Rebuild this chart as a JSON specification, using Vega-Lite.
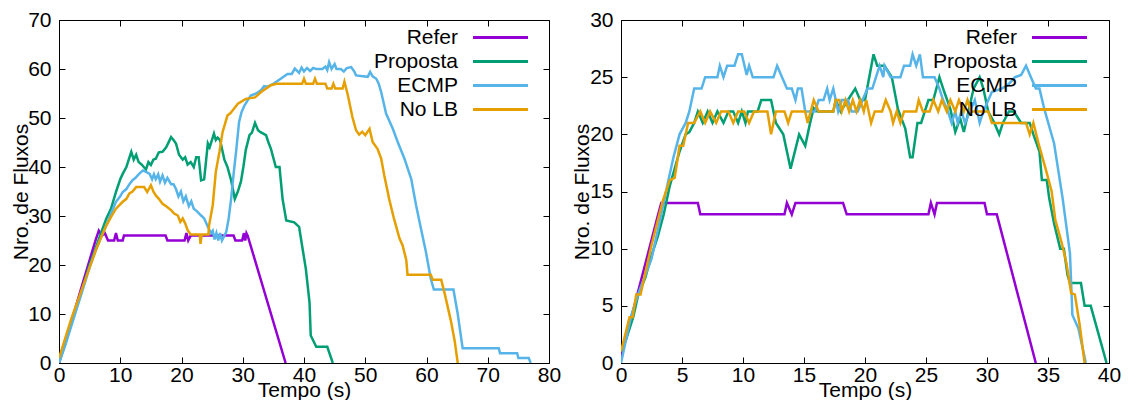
{
"$schema": "https://vega.github.io/schema/vega-lite/v6.json",
"padding": {"left": 9, "top": 8, "right": 5, "bottom": 0},
"config": {
  "view": {"stroke": "black", "strokeWidth": 1},
  "axis": {"labelFont": "Liberation Sans", "labelFontSize": 21, "labelColor": "black", "titleFont": "Liberation Sans", "titleFontSize": 21, "titleFontWeight": "normal", "titleColor": "black", "domainColor": "black", "tickColor": "black", "grid": false, "labelFlush": false, "labelOverlap": false, "tickSize": -6}
},
"resolve": {"scale": {"color": "independent"}, "legend": {"color": "independent"}},
"spacing": 8,
"datasets": {
"left": [
{"s":"Refer","t":0,"v":0},{"s":"Refer","t":1,"v":4.2},{"s":"Refer","t":2,"v":8.4},{"s":"Refer","t":3,"v":12.6},{"s":"Refer","t":4,"v":16.8},{"s":"Refer","t":5,"v":21},{"s":"Refer","t":6,"v":25.2},{"s":"Refer","t":6.5,"v":27},{"s":"Refer","t":7,"v":26},{"s":"Refer","t":7.5,"v":26.5},{"s":"Refer","t":8,"v":25},{"s":"Refer","t":9,"v":25},{"s":"Refer","t":9.3,"v":26.5},{"s":"Refer","t":9.6,"v":25},{"s":"Refer","t":10.4,"v":25},{"s":"Refer","t":10.6,"v":26},{"s":"Refer","t":17.4,"v":26},{"s":"Refer","t":17.7,"v":25},{"s":"Refer","t":20.5,"v":25},{"s":"Refer","t":20.8,"v":26.5},{"s":"Refer","t":21.1,"v":25},{"s":"Refer","t":21.5,"v":26},{"s":"Refer","t":28.5,"v":26},{"s":"Refer","t":28.8,"v":25},{"s":"Refer","t":29.9,"v":25},{"s":"Refer","t":30.2,"v":26.5},{"s":"Refer","t":30.4,"v":25},{"s":"Refer","t":30.6,"v":26.5},{"s":"Refer","t":30.8,"v":26},{"s":"Refer","t":37,"v":0},
{"s":"Proposta","t":0,"v":0},{"s":"Proposta","t":1,"v":4},{"s":"Proposta","t":2,"v":8},{"s":"Proposta","t":3,"v":12},{"s":"Proposta","t":4,"v":16},{"s":"Proposta","t":5,"v":20},{"s":"Proposta","t":6,"v":23.5},{"s":"Proposta","t":7,"v":27},{"s":"Proposta","t":7.7,"v":29.4},{"s":"Proposta","t":8.5,"v":31.5},{"s":"Proposta","t":9.3,"v":34.9},{"s":"Proposta","t":10,"v":37.5},{"s":"Proposta","t":10.4,"v":38.6},{"s":"Proposta","t":11,"v":40},{"s":"Proposta","t":11.8,"v":43.1},{"s":"Proposta","t":12.2,"v":41.5},{"s":"Proposta","t":12.6,"v":42.5},{"s":"Proposta","t":13,"v":41},{"s":"Proposta","t":13.5,"v":40.5},{"s":"Proposta","t":14.2,"v":39.5},{"s":"Proposta","t":14.6,"v":41},{"s":"Proposta","t":15,"v":40.4},{"s":"Proposta","t":15.4,"v":41.5},{"s":"Proposta","t":15.8,"v":41.7},{"s":"Proposta","t":16.3,"v":43},{"s":"Proposta","t":16.9,"v":43.1},{"s":"Proposta","t":17.5,"v":44},{"s":"Proposta","t":18.3,"v":46.1},{"s":"Proposta","t":18.7,"v":45.5},{"s":"Proposta","t":19.1,"v":44.8},{"s":"Proposta","t":19.6,"v":42.5},{"s":"Proposta","t":20.2,"v":41.5},{"s":"Proposta","t":20.6,"v":42},{"s":"Proposta","t":21,"v":40.5},{"s":"Proposta","t":21.5,"v":41},{"s":"Proposta","t":22,"v":40},{"s":"Proposta","t":22.4,"v":42},{"s":"Proposta","t":22.8,"v":42},{"s":"Proposta","t":23.2,"v":37.3},{"s":"Proposta","t":23.7,"v":37.5},{"s":"Proposta","t":24.3,"v":44.8},{"s":"Proposta","t":24.6,"v":44},{"s":"Proposta","t":25.3,"v":46.8},{"s":"Proposta","t":25.6,"v":45.5},{"s":"Proposta","t":25.9,"v":46},{"s":"Proposta","t":26.3,"v":45.5},{"s":"Proposta","t":27,"v":41.5},{"s":"Proposta","t":27.5,"v":40},{"s":"Proposta","t":28.1,"v":37.3},{"s":"Proposta","t":28.7,"v":33.5},{"s":"Proposta","t":29.2,"v":35},{"s":"Proposta","t":29.7,"v":37},{"s":"Proposta","t":30.1,"v":40},{"s":"Proposta","t":30.5,"v":43.5},{"s":"Proposta","t":31.1,"v":46.5},{"s":"Proposta","t":31.5,"v":47},{"s":"Proposta","t":32,"v":49},{"s":"Proposta","t":32.5,"v":47.5},{"s":"Proposta","t":32.9,"v":47.1},{"s":"Proposta","t":33.8,"v":46.5},{"s":"Proposta","t":34.2,"v":45},{"s":"Proposta","t":34.6,"v":43.7},{"s":"Proposta","t":35.4,"v":40},{"s":"Proposta","t":36,"v":40},{"s":"Proposta","t":36.5,"v":33.5},{"s":"Proposta","t":37.1,"v":29.1},{"s":"Proposta","t":38.4,"v":28.7},{"s":"Proposta","t":39.2,"v":27.8},{"s":"Proposta","t":39.5,"v":25.4},{"s":"Proposta","t":40.3,"v":19.2},{"s":"Proposta","t":40.9,"v":12.4},{"s":"Proposta","t":41.1,"v":5.6},{"s":"Proposta","t":42,"v":3.3},{"s":"Proposta","t":43.8,"v":3.3},{"s":"Proposta","t":44.7,"v":0},
{"s":"ECMP","t":0,"v":0},{"s":"ECMP","t":1,"v":3.5},{"s":"ECMP","t":2,"v":7.5},{"s":"ECMP","t":3,"v":11.5},{"s":"ECMP","t":4,"v":15.5},{"s":"ECMP","t":5,"v":19.5},{"s":"ECMP","t":6,"v":23},{"s":"ECMP","t":7,"v":26},{"s":"ECMP","t":7.7,"v":28},{"s":"ECMP","t":8.5,"v":30.5},{"s":"ECMP","t":9.3,"v":32.9},{"s":"ECMP","t":10,"v":34},{"s":"ECMP","t":10.4,"v":34.9},{"s":"ECMP","t":11,"v":35.5},{"s":"ECMP","t":11.5,"v":36.5},{"s":"ECMP","t":12,"v":37.3},{"s":"ECMP","t":12.5,"v":37.8},{"s":"ECMP","t":13,"v":38.5},{"s":"ECMP","t":13.7,"v":39.3},{"s":"ECMP","t":14.2,"v":39},{"s":"ECMP","t":14.8,"v":38.6},{"s":"ECMP","t":15.2,"v":37.5},{"s":"ECMP","t":15.5,"v":38.5},{"s":"ECMP","t":15.8,"v":37.5},{"s":"ECMP","t":16.2,"v":38.5},{"s":"ECMP","t":16.5,"v":37},{"s":"ECMP","t":16.9,"v":38.3},{"s":"ECMP","t":17.3,"v":36.8},{"s":"ECMP","t":17.7,"v":37.8},{"s":"ECMP","t":18.3,"v":36.5},{"s":"ECMP","t":18.7,"v":36.5},{"s":"ECMP","t":19.1,"v":35.5},{"s":"ECMP","t":19.5,"v":34},{"s":"ECMP","t":19.9,"v":35},{"s":"ECMP","t":20.3,"v":33},{"s":"ECMP","t":20.7,"v":34},{"s":"ECMP","t":21.2,"v":32},{"s":"ECMP","t":21.6,"v":33},{"s":"ECMP","t":22,"v":31.5},{"s":"ECMP","t":22.5,"v":31},{"s":"ECMP","t":23.2,"v":30.1},{"s":"ECMP","t":23.7,"v":29.5},{"s":"ECMP","t":24.3,"v":27.8},{"s":"ECMP","t":24.8,"v":26.5},{"s":"ECMP","t":25.1,"v":27},{"s":"ECMP","t":25.4,"v":25.2},{"s":"ECMP","t":25.7,"v":26.5},{"s":"ECMP","t":26,"v":25},{"s":"ECMP","t":26.3,"v":26.5},{"s":"ECMP","t":26.6,"v":25},{"s":"ECMP","t":27,"v":26},{"s":"ECMP","t":27.3,"v":26.7},{"s":"ECMP","t":27.7,"v":29.5},{"s":"ECMP","t":28.1,"v":33.5},{"s":"ECMP","t":28.5,"v":38.5},{"s":"ECMP","t":28.9,"v":43},{"s":"ECMP","t":29.4,"v":49.2},{"s":"ECMP","t":29.8,"v":51.2},{"s":"ECMP","t":30.3,"v":52.6},{"s":"ECMP","t":31.3,"v":54.6},{"s":"ECMP","t":32.2,"v":55},{"s":"ECMP","t":33,"v":55.7},{"s":"ECMP","t":33.5,"v":56.5},{"s":"ECMP","t":34,"v":56.4},{"s":"ECMP","t":34.6,"v":56.7},{"s":"ECMP","t":35,"v":57},{"s":"ECMP","t":36.2,"v":58},{"s":"ECMP","t":37.3,"v":59},{"s":"ECMP","t":38,"v":59},{"s":"ECMP","t":38.5,"v":60.1},{"s":"ECMP","t":39.2,"v":59.2},{"s":"ECMP","t":39.6,"v":60.3},{"s":"ECMP","t":40,"v":59.5},{"s":"ECMP","t":40.5,"v":60.2},{"s":"ECMP","t":41,"v":59.6},{"s":"ECMP","t":41.5,"v":60.2},{"s":"ECMP","t":42,"v":60},{"s":"ECMP","t":43,"v":60},{"s":"ECMP","t":43.5,"v":60.5},{"s":"ECMP","t":43.8,"v":59.8},{"s":"ECMP","t":44.1,"v":61.4},{"s":"ECMP","t":44.5,"v":60},{"s":"ECMP","t":45,"v":61},{"s":"ECMP","t":45.3,"v":60},{"s":"ECMP","t":46,"v":60},{"s":"ECMP","t":46.5,"v":59.5},{"s":"ECMP","t":47,"v":60.2},{"s":"ECMP","t":47.7,"v":60.4},{"s":"ECMP","t":48.2,"v":59.5},{"s":"ECMP","t":48.5,"v":58.7},{"s":"ECMP","t":50.4,"v":58.4},{"s":"ECMP","t":50.8,"v":59.4},{"s":"ECMP","t":51.2,"v":58.5},{"s":"ECMP","t":51.8,"v":58},{"s":"ECMP","t":52.2,"v":57},{"s":"ECMP","t":52.6,"v":55.3},{"s":"ECMP","t":53.4,"v":50.9},{"s":"ECMP","t":54.5,"v":47.8},{"s":"ECMP","t":55.3,"v":45.1},{"s":"ECMP","t":56.4,"v":41.7},{"s":"ECMP","t":57.5,"v":37.6},{"s":"ECMP","t":58.3,"v":32.2},{"s":"ECMP","t":59.1,"v":27.4},{"s":"ECMP","t":59.9,"v":22.7},{"s":"ECMP","t":60.7,"v":17.2},{"s":"ECMP","t":61.2,"v":15},{"s":"ECMP","t":64.4,"v":15},{"s":"ECMP","t":65.1,"v":10},{"s":"ECMP","t":65.9,"v":3},{"s":"ECMP","t":71.8,"v":3},{"s":"ECMP","t":72,"v":2},{"s":"ECMP","t":74.8,"v":2},{"s":"ECMP","t":75,"v":1},{"s":"ECMP","t":76.7,"v":1},{"s":"ECMP","t":77,"v":0},
{"s":"No LB","t":0,"v":1},{"s":"No LB","t":1,"v":5},{"s":"No LB","t":2,"v":9},{"s":"No LB","t":3,"v":12.5},{"s":"No LB","t":4,"v":16},{"s":"No LB","t":5,"v":19.5},{"s":"No LB","t":6,"v":23},{"s":"No LB","t":7,"v":26},{"s":"No LB","t":7.7,"v":28},{"s":"No LB","t":8.5,"v":29.8},{"s":"No LB","t":9.3,"v":31.5},{"s":"No LB","t":10.4,"v":32.9},{"s":"No LB","t":11,"v":33.5},{"s":"No LB","t":11.5,"v":34.6},{"s":"No LB","t":12,"v":35},{"s":"No LB","t":12.6,"v":35.9},{"s":"No LB","t":13.9,"v":35.9},{"s":"No LB","t":14.4,"v":34.9},{"s":"No LB","t":15,"v":36.3},{"s":"No LB","t":15.4,"v":35},{"s":"No LB","t":15.8,"v":34.2},{"s":"No LB","t":16.3,"v":33.5},{"s":"No LB","t":16.9,"v":32.5},{"s":"No LB","t":17.5,"v":32},{"s":"No LB","t":18.3,"v":31.2},{"s":"No LB","t":18.8,"v":30.5},{"s":"No LB","t":19.4,"v":30.1},{"s":"No LB","t":19.8,"v":28.8},{"s":"No LB","t":20.2,"v":29.5},{"s":"No LB","t":20.6,"v":28.5},{"s":"No LB","t":21,"v":27.1},{"s":"No LB","t":21.5,"v":26.2},{"s":"No LB","t":23,"v":26.2},{"s":"No LB","t":23.1,"v":24.3},{"s":"No LB","t":23.3,"v":26.2},{"s":"No LB","t":24.4,"v":26.2},{"s":"No LB","t":24.5,"v":28.1},{"s":"No LB","t":25.1,"v":32.2},{"s":"No LB","t":25.6,"v":39},{"s":"No LB","t":26.2,"v":43.1},{"s":"No LB","t":26.7,"v":47.1},{"s":"No LB","t":27.5,"v":50.5},{"s":"No LB","t":28,"v":51},{"s":"No LB","t":28.5,"v":51.8},{"s":"No LB","t":29.2,"v":52.9},{"s":"No LB","t":30.5,"v":53.9},{"s":"No LB","t":32,"v":54.2},{"s":"No LB","t":33,"v":55.3},{"s":"No LB","t":34.6,"v":56.7},{"s":"No LB","t":35.5,"v":57},{"s":"No LB","t":39.7,"v":57},{"s":"No LB","t":40,"v":58},{"s":"No LB","t":40.3,"v":57},{"s":"No LB","t":41.5,"v":57},{"s":"No LB","t":41.8,"v":58},{"s":"No LB","t":42.1,"v":57},{"s":"No LB","t":43.5,"v":57},{"s":"No LB","t":43.8,"v":56},{"s":"No LB","t":44.5,"v":56},{"s":"No LB","t":44.8,"v":57},{"s":"No LB","t":45.1,"v":56},{"s":"No LB","t":46.3,"v":56},{"s":"No LB","t":46.6,"v":57.4},{"s":"No LB","t":47.1,"v":55},{"s":"No LB","t":47.9,"v":50.2},{"s":"No LB","t":48.5,"v":47.5},{"s":"No LB","t":49,"v":46.6},{"s":"No LB","t":49.5,"v":47.2},{"s":"No LB","t":50,"v":46.5},{"s":"No LB","t":50.7,"v":47.8},{"s":"No LB","t":51.2,"v":45.1},{"s":"No LB","t":52,"v":43.7},{"s":"No LB","t":52.6,"v":41.7},{"s":"No LB","t":53.1,"v":38.3},{"s":"No LB","t":53.9,"v":33.5},{"s":"No LB","t":54.7,"v":29.4},{"s":"No LB","t":55.6,"v":25.4},{"s":"No LB","t":56.1,"v":24},{"s":"No LB","t":56.7,"v":21},{"s":"No LB","t":56.9,"v":18},{"s":"No LB","t":60.7,"v":18},{"s":"No LB","t":61,"v":17},{"s":"No LB","t":62.4,"v":17},{"s":"No LB","t":63,"v":14},{"s":"No LB","t":64,"v":8.5},{"s":"No LB","t":64.6,"v":4.5},{"s":"No LB","t":65.1,"v":0}
],
"right": [
{"s":"Refer","t":0,"v":0.5},{"s":"Refer","t":1,"v":4.6},{"s":"Refer","t":2,"v":8.7},{"s":"Refer","t":3,"v":12.8},{"s":"Refer","t":3.3,"v":14},{"s":"Refer","t":6.3,"v":14},{"s":"Refer","t":6.5,"v":13},{"s":"Refer","t":13.4,"v":13},{"s":"Refer","t":13.6,"v":14},{"s":"Refer","t":14,"v":13},{"s":"Refer","t":14.3,"v":14},{"s":"Refer","t":18.2,"v":14},{"s":"Refer","t":18.5,"v":13},{"s":"Refer","t":25.2,"v":13},{"s":"Refer","t":25.4,"v":14},{"s":"Refer","t":25.7,"v":13},{"s":"Refer","t":25.9,"v":14},{"s":"Refer","t":29.8,"v":14},{"s":"Refer","t":30,"v":13},{"s":"Refer","t":30.8,"v":13},{"s":"Refer","t":34,"v":0},
{"s":"Proposta","t":0,"v":1},{"s":"Proposta","t":0.4,"v":2},{"s":"Proposta","t":1,"v":4},{"s":"Proposta","t":1.4,"v":5.9},{"s":"Proposta","t":2,"v":7.5},{"s":"Proposta","t":2.5,"v":9.4},{"s":"Proposta","t":3,"v":11},{"s":"Proposta","t":3.5,"v":13},{"s":"Proposta","t":4,"v":15.5},{"s":"Proposta","t":4.4,"v":17},{"s":"Proposta","t":4.8,"v":18.5},{"s":"Proposta","t":5.3,"v":20},{"s":"Proposta","t":5.6,"v":20.2},{"s":"Proposta","t":6,"v":21},{"s":"Proposta","t":6.3,"v":22},{"s":"Proposta","t":6.7,"v":21},{"s":"Proposta","t":7.1,"v":22},{"s":"Proposta","t":7.5,"v":21},{"s":"Proposta","t":7.9,"v":22},{"s":"Proposta","t":8.4,"v":21},{"s":"Proposta","t":8.8,"v":22},{"s":"Proposta","t":9.2,"v":22},{"s":"Proposta","t":9.6,"v":21},{"s":"Proposta","t":9.9,"v":22},{"s":"Proposta","t":10.2,"v":21},{"s":"Proposta","t":10.4,"v":22},{"s":"Proposta","t":11.2,"v":22},{"s":"Proposta","t":11.5,"v":23},{"s":"Proposta","t":12.3,"v":23},{"s":"Proposta","t":12.7,"v":21},{"s":"Proposta","t":13.3,"v":20},{"s":"Proposta","t":13.9,"v":17},{"s":"Proposta","t":14.6,"v":20},{"s":"Proposta","t":15.1,"v":19},{"s":"Proposta","t":15.5,"v":21},{"s":"Proposta","t":15.8,"v":22.3},{"s":"Proposta","t":16.1,"v":22},{"s":"Proposta","t":17.4,"v":22},{"s":"Proposta","t":17.6,"v":23},{"s":"Proposta","t":18,"v":22},{"s":"Proposta","t":18.6,"v":23},{"s":"Proposta","t":19.2,"v":24},{"s":"Proposta","t":19.6,"v":23},{"s":"Proposta","t":20,"v":23},{"s":"Proposta","t":20.7,"v":27},{"s":"Proposta","t":21,"v":26},{"s":"Proposta","t":21.6,"v":26},{"s":"Proposta","t":22.2,"v":25},{"s":"Proposta","t":22.7,"v":22.2},{"s":"Proposta","t":23.3,"v":20.5},{"s":"Proposta","t":23.7,"v":18},{"s":"Proposta","t":23.9,"v":18},{"s":"Proposta","t":24.3,"v":21},{"s":"Proposta","t":24.6,"v":21},{"s":"Proposta","t":25.2,"v":23},{"s":"Proposta","t":25.6,"v":23},{"s":"Proposta","t":26.1,"v":25},{"s":"Proposta","t":26.5,"v":23.7},{"s":"Proposta","t":27,"v":22.2},{"s":"Proposta","t":27.4,"v":20.2},{"s":"Proposta","t":27.8,"v":21.4},{"s":"Proposta","t":28.1,"v":20.2},{"s":"Proposta","t":28.4,"v":21.6},{"s":"Proposta","t":28.9,"v":24},{"s":"Proposta","t":29.4,"v":25},{"s":"Proposta","t":29.7,"v":24},{"s":"Proposta","t":30.1,"v":22},{"s":"Proposta","t":30.6,"v":21},{"s":"Proposta","t":31,"v":20},{"s":"Proposta","t":31.3,"v":21},{"s":"Proposta","t":31.8,"v":22},{"s":"Proposta","t":32.2,"v":22},{"s":"Proposta","t":32.8,"v":21},{"s":"Proposta","t":33.5,"v":21},{"s":"Proposta","t":33.8,"v":20},{"s":"Proposta","t":34.3,"v":18.5},{"s":"Proposta","t":34.5,"v":16},{"s":"Proposta","t":34.9,"v":16},{"s":"Proposta","t":35.1,"v":14.4},{"s":"Proposta","t":35.5,"v":12.2},{"s":"Proposta","t":36,"v":10},{"s":"Proposta","t":36.3,"v":10},{"s":"Proposta","t":36.6,"v":7.7},{"s":"Proposta","t":36.8,"v":7},{"s":"Proposta","t":37.7,"v":7},{"s":"Proposta","t":38,"v":5},{"s":"Proposta","t":38.5,"v":5},{"s":"Proposta","t":39.8,"v":0},
{"s":"ECMP","t":0,"v":0},{"s":"ECMP","t":0.85,"v":4.2},{"s":"ECMP","t":1.5,"v":6.3},{"s":"ECMP","t":2.5,"v":9.1},{"s":"ECMP","t":3.2,"v":12.5},{"s":"ECMP","t":3.85,"v":15.8},{"s":"ECMP","t":4.3,"v":18},{"s":"ECMP","t":4.8,"v":20},{"s":"ECMP","t":5.3,"v":21},{"s":"ECMP","t":5.6,"v":22},{"s":"ECMP","t":6,"v":24},{"s":"ECMP","t":6.6,"v":24},{"s":"ECMP","t":6.9,"v":25},{"s":"ECMP","t":7.9,"v":25},{"s":"ECMP","t":8.1,"v":26},{"s":"ECMP","t":8.4,"v":25},{"s":"ECMP","t":8.7,"v":26},{"s":"ECMP","t":9.3,"v":26},{"s":"ECMP","t":9.6,"v":27},{"s":"ECMP","t":9.9,"v":27},{"s":"ECMP","t":10.3,"v":25.2},{"s":"ECMP","t":10.5,"v":26},{"s":"ECMP","t":10.8,"v":25},{"s":"ECMP","t":12.5,"v":25},{"s":"ECMP","t":12.8,"v":26},{"s":"ECMP","t":13.2,"v":25},{"s":"ECMP","t":13.6,"v":24},{"s":"ECMP","t":14,"v":24},{"s":"ECMP","t":14.3,"v":23},{"s":"ECMP","t":14.5,"v":24},{"s":"ECMP","t":14.8,"v":24},{"s":"ECMP","t":15.1,"v":22},{"s":"ECMP","t":15.9,"v":22},{"s":"ECMP","t":16.2,"v":23},{"s":"ECMP","t":16.6,"v":23},{"s":"ECMP","t":16.9,"v":24},{"s":"ECMP","t":17.1,"v":23},{"s":"ECMP","t":17.4,"v":24},{"s":"ECMP","t":17.8,"v":22},{"s":"ECMP","t":18.1,"v":23},{"s":"ECMP","t":18.6,"v":23},{"s":"ECMP","t":18.9,"v":22},{"s":"ECMP","t":19.4,"v":22},{"s":"ECMP","t":19.8,"v":23},{"s":"ECMP","t":20.2,"v":24},{"s":"ECMP","t":20.6,"v":24},{"s":"ECMP","t":20.9,"v":25},{"s":"ECMP","t":21.2,"v":26},{"s":"ECMP","t":21.5,"v":25},{"s":"ECMP","t":21.6,"v":26},{"s":"ECMP","t":22.1,"v":25},{"s":"ECMP","t":22.9,"v":25},{"s":"ECMP","t":23.2,"v":26},{"s":"ECMP","t":23.7,"v":26},{"s":"ECMP","t":23.9,"v":27},{"s":"ECMP","t":24.2,"v":26},{"s":"ECMP","t":24.5,"v":27},{"s":"ECMP","t":24.75,"v":25},{"s":"ECMP","t":25.7,"v":25},{"s":"ECMP","t":26.1,"v":24},{"s":"ECMP","t":26.4,"v":23},{"s":"ECMP","t":26.8,"v":22},{"s":"ECMP","t":27.1,"v":21},{"s":"ECMP","t":27.4,"v":22},{"s":"ECMP","t":27.6,"v":21},{"s":"ECMP","t":27.9,"v":22},{"s":"ECMP","t":28.2,"v":21},{"s":"ECMP","t":28.6,"v":22},{"s":"ECMP","t":29,"v":23},{"s":"ECMP","t":29.4,"v":21},{"s":"ECMP","t":29.7,"v":22},{"s":"ECMP","t":30.4,"v":23.7},{"s":"ECMP","t":31.2,"v":24},{"s":"ECMP","t":31.7,"v":24.3},{"s":"ECMP","t":32.3,"v":25},{"s":"ECMP","t":32.8,"v":25.2},{"s":"ECMP","t":33.2,"v":26},{"s":"ECMP","t":33.6,"v":25},{"s":"ECMP","t":34,"v":24},{"s":"ECMP","t":34.3,"v":24},{"s":"ECMP","t":34.7,"v":22.2},{"s":"ECMP","t":35.5,"v":19.2},{"s":"ECMP","t":36.2,"v":14.4},{"s":"ECMP","t":36.5,"v":12},{"s":"ECMP","t":36.8,"v":9.6},{"s":"ECMP","t":37,"v":4.2},{"s":"ECMP","t":37.5,"v":3},{"s":"ECMP","t":38.1,"v":0},
{"s":"No LB","t":0,"v":1},{"s":"No LB","t":0.7,"v":4},{"s":"No LB","t":0.95,"v":4},{"s":"No LB","t":1.25,"v":6},{"s":"No LB","t":1.6,"v":6},{"s":"No LB","t":2.5,"v":10.3},{"s":"No LB","t":3.4,"v":14.1},{"s":"No LB","t":4,"v":16},{"s":"No LB","t":4.4,"v":16.2},{"s":"No LB","t":4.8,"v":19},{"s":"No LB","t":5.1,"v":19},{"s":"No LB","t":5.5,"v":21},{"s":"No LB","t":6,"v":21},{"s":"No LB","t":6.5,"v":22},{"s":"No LB","t":6.9,"v":21},{"s":"No LB","t":7.3,"v":22},{"s":"No LB","t":7.8,"v":21},{"s":"No LB","t":8.2,"v":22},{"s":"No LB","t":8.8,"v":22},{"s":"No LB","t":9.2,"v":21},{"s":"No LB","t":9.6,"v":22},{"s":"No LB","t":10.1,"v":22},{"s":"No LB","t":10.5,"v":21},{"s":"No LB","t":10.9,"v":22},{"s":"No LB","t":12,"v":22},{"s":"No LB","t":12.3,"v":20},{"s":"No LB","t":12.7,"v":22},{"s":"No LB","t":13.4,"v":22},{"s":"No LB","t":13.7,"v":21},{"s":"No LB","t":14,"v":22},{"s":"No LB","t":15.1,"v":22},{"s":"No LB","t":15.3,"v":21},{"s":"No LB","t":15.8,"v":23},{"s":"No LB","t":16.2,"v":22},{"s":"No LB","t":17.4,"v":22},{"s":"No LB","t":17.6,"v":23},{"s":"No LB","t":17.9,"v":23},{"s":"No LB","t":18.1,"v":22},{"s":"No LB","t":18.4,"v":23},{"s":"No LB","t":18.7,"v":22},{"s":"No LB","t":19,"v":23},{"s":"No LB","t":19.3,"v":22},{"s":"No LB","t":19.6,"v":23},{"s":"No LB","t":19.9,"v":22},{"s":"No LB","t":20.1,"v":23},{"s":"No LB","t":20.5,"v":21},{"s":"No LB","t":20.8,"v":22},{"s":"No LB","t":21.4,"v":22},{"s":"No LB","t":21.7,"v":23},{"s":"No LB","t":22.1,"v":22},{"s":"No LB","t":22.3,"v":21},{"s":"No LB","t":22.6,"v":22},{"s":"No LB","t":22.9,"v":21},{"s":"No LB","t":23.2,"v":22},{"s":"No LB","t":24.2,"v":22},{"s":"No LB","t":24.4,"v":23},{"s":"No LB","t":24.75,"v":22},{"s":"No LB","t":25.3,"v":22},{"s":"No LB","t":25.6,"v":23},{"s":"No LB","t":26,"v":22},{"s":"No LB","t":26.3,"v":23},{"s":"No LB","t":26.7,"v":22},{"s":"No LB","t":27,"v":23},{"s":"No LB","t":27.4,"v":22},{"s":"No LB","t":27.7,"v":23},{"s":"No LB","t":28.1,"v":22},{"s":"No LB","t":28.4,"v":23},{"s":"No LB","t":28.7,"v":22},{"s":"No LB","t":30.1,"v":22},{"s":"No LB","t":30.4,"v":21},{"s":"No LB","t":33.2,"v":21},{"s":"No LB","t":33.5,"v":20},{"s":"No LB","t":33.8,"v":21},{"s":"No LB","t":34.2,"v":19.3},{"s":"No LB","t":34.8,"v":17},{"s":"No LB","t":35.3,"v":15},{"s":"No LB","t":35.6,"v":12.5},{"s":"No LB","t":36.1,"v":10.6},{"s":"No LB","t":36.5,"v":8.8},{"s":"No LB","t":36.9,"v":6.1},{"s":"No LB","t":37.2,"v":6},{"s":"No LB","t":37.6,"v":3.3},{"s":"No LB","t":38,"v":0}
]
},
"hconcat": [
{
  "width": 490, "height": 343,
  "data": {"name": "left"},
  "layer": [
    {
      "mark": {"type": "line", "strokeWidth": 2.5, "clip": true},
      "encoding": {
        "x": {"field": "t", "type": "quantitative", "scale": {"domain": [0, 80], "nice": false, "zero": false},
              "axis": {"values": [0,10,20,30,40,50,60,70,80], "title": "Tempo (s)", "labelPadding": 7, "titleBaseline": "alphabetic", "titleX": 245, "titleY": 33}},
        "y": {"field": "v", "type": "quantitative", "scale": {"domain": [0, 70], "nice": false},
              "axis": {"values": [0,10,20,30,40,50,60,70], "title": "Nro. de Fluxos", "labelPadding": 14, "titleBaseline": "alphabetic", "titleAngle": -90, "titleX": -32, "titleY": 171.5}},
        "color": {"field": "s", "type": "nominal",
                  "scale": {"domain": ["Refer", "Proposta", "ECMP", "No LB"], "range": ["#9400D3", "#009E73", "#56B4E9", "#E69F00"]},
                  "legend": {"title": null, "orient": "none", "legendX": 301, "legendY": 7, "symbolType": "M-5,0H5", "symbolSize": 121, "symbolStrokeWidth": 3, "symbolOffset": 130, "labelOffset": -53, "labelAlign": "right", "labelFontSize": 21, "labelFont": "Liberation Sans", "labelColor": "black", "rowPadding": 2, "padding": 0, "labelLimit": 0}}
      }
    },
    {
      "mark": {"type": "point", "opacity": 0},
      "encoding": {
        "x": {"field": "t", "type": "quantitative", "axis": {"orient": "top", "values": [0,10,20,30,40,50,60,70,80], "labels": false, "title": null, "domain": false}},
        "y": {"field": "v", "type": "quantitative", "axis": {"orient": "right", "values": [0,10,20,30,40,50,60,70], "labels": false, "title": null, "domain": false}}
      }
    }
  ],
  "resolve": {"axis": {"x": "independent", "y": "independent"}}
},
{
  "width": 488, "height": 343,
  "data": {"name": "right"},
  "layer": [
    {
      "mark": {"type": "line", "strokeWidth": 2.5, "clip": true},
      "encoding": {
        "x": {"field": "t", "type": "quantitative", "scale": {"domain": [0, 40], "nice": false, "zero": false},
              "axis": {"values": [0,5,10,15,20,25,30,35,40], "title": "Tempo (s)", "labelPadding": 7, "titleBaseline": "alphabetic", "titleX": 244, "titleY": 33}},
        "y": {"field": "v", "type": "quantitative", "scale": {"domain": [0, 30], "nice": false},
              "axis": {"values": [0,5,10,15,20,25,30], "title": "Nro. de Fluxos", "labelPadding": 14, "titleBaseline": "alphabetic", "titleAngle": -90, "titleX": -33, "titleY": 171.5}},
        "color": {"field": "s", "type": "nominal",
                  "scale": {"domain": ["Refer", "Proposta", "ECMP", "No LB"], "range": ["#9400D3", "#009E73", "#56B4E9", "#E69F00"]},
                  "legend": {"title": null, "orient": "none", "legendX": 298, "legendY": 7, "symbolType": "M-5,0H5", "symbolSize": 121, "symbolStrokeWidth": 3, "symbolOffset": 130, "labelOffset": -53, "labelAlign": "right", "labelFontSize": 21, "labelFont": "Liberation Sans", "labelColor": "black", "rowPadding": 2, "padding": 0, "labelLimit": 0}}
      }
    },
    {
      "mark": {"type": "point", "opacity": 0},
      "encoding": {
        "x": {"field": "t", "type": "quantitative", "axis": {"orient": "top", "values": [0,5,10,15,20,25,30,35,40], "labels": false, "title": null, "domain": false}},
        "y": {"field": "v", "type": "quantitative", "axis": {"orient": "right", "values": [0,5,10,15,20,25,30], "labels": false, "title": null, "domain": false}}
      }
    }
  ],
  "resolve": {"axis": {"x": "independent", "y": "independent"}}
}
]
}
